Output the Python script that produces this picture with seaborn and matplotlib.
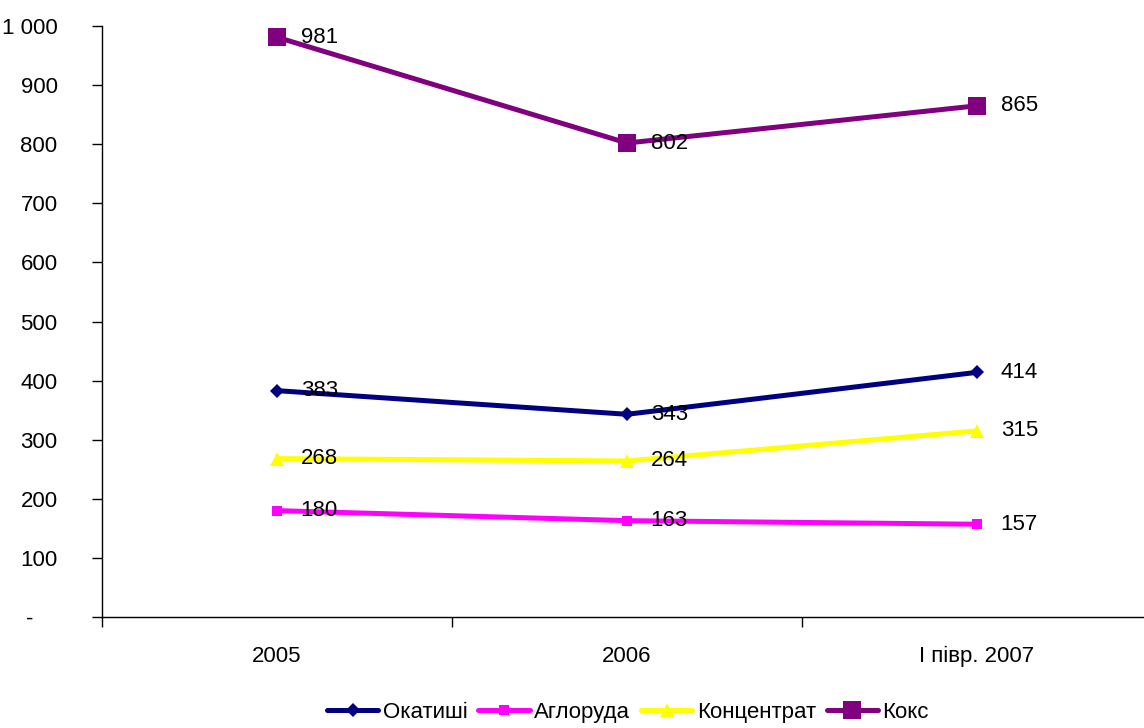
import matplotlib
matplotlib.use("Agg")
import matplotlib.pyplot as plt
import seaborn as sns
import pandas as pd

categories = ["2005", "2006", "І півр. 2007"]
okatyshi = [383, 343, 414]
ahloruda = [180, 163, 157]
kontsentrat = [268, 264, 315]
koks = [981, 802, 865]
series_names = ["Окатиші", "Аглоруда", "Концентрат", "Кокс"]
y_ticks = [0, 100, 200, 300, 400, 500, 600, 700, 800, 900, 1000]
y_tick_labels = ["-    ", "100", "200", "300", "400", "500", "600", "700", "800", "900", "1 000"]

sns.set_theme(style="white")
plt.rcParams["font.family"] = ["Liberation Sans", "DejaVu Sans"]
plt.rcParams["text.color"] = "black"
plt.rcParams["xtick.color"] = "black"
plt.rcParams["ytick.color"] = "black"

fig = plt.figure(figsize=(11.44, 7.28), dpi=100)
ax = fig.add_axes([102 / 1144, 111 / 728, 1050 / 1144, 591 / 728])

styles = {
    "Окатиші": dict(color="#000080", marker="D", ms=7),
    "Аглоруда": dict(color="#FF00FF", marker="s", ms=7),
    "Концентрат": dict(color="#FFFF00", marker="^", ms=9.5),
    "Кокс": dict(color="#800080", marker="s", ms=12.5),
}
values = [okatyshi, ahloruda, kontsentrat, koks]

frames = []
for name, vals in zip(series_names, values):
    frames.append(pd.DataFrame({"cat": categories, "value": vals, "series": name}))
df = pd.concat(frames, ignore_index=True)

FS = 16
for name in series_names:
    sub = df[df["series"] == name]
    st = styles[name]
    sns.lineplot(data=sub, x="cat", y="value", ax=ax, color=st["color"],
                 marker=st["marker"], markersize=st["ms"], markeredgewidth=0,
                 linewidth=3.6, label=name, sort=False)
    for i, v in enumerate(sub["value"]):
        ax.annotate(f"{v}", (i, v), xytext=(17, 0), textcoords="offset points",
                    ha="left", va="center", fontsize=FS, color="black")

ax.set_xlim(-0.5, 2.5)
ax.set_ylim(0, 1000)
ax.set_yticks(y_ticks)
ax.set_yticklabels(y_tick_labels, fontsize=FS)
ax.set_xticks(range(len(categories)))
ax.set_xticklabels(categories, fontsize=FS)
ax.set_xticks([-0.5, 0.5, 1.5, 2.5], minor=True)
ax.tick_params(axis="x", which="major", length=0, pad=21)
ax.tick_params(axis="x", which="minor", length=7, width=1, color="black", direction="out", bottom=True)
ax.tick_params(axis="y", length=7, width=1, color="black", direction="out", pad=25, left=True)
ax.set_xlabel("")
ax.set_ylabel("")
for s in ["top", "right"]:
    ax.spines[s].set_visible(False)
for s in ["left", "bottom"]:
    ax.spines[s].set_color("black")
    ax.spines[s].set_linewidth(1)

handles, labels = ax.get_legend_handles_labels()
ax.legend(handles, labels, loc="lower center", bbox_to_anchor=(628 / 1144, -0.02),
          bbox_transform=fig.transFigure, ncol=4, frameon=False, fontsize=FS,
          handlelength=2.3, handletextpad=0.2, columnspacing=0.5)

fig.savefig("out.png", dpi=100)
